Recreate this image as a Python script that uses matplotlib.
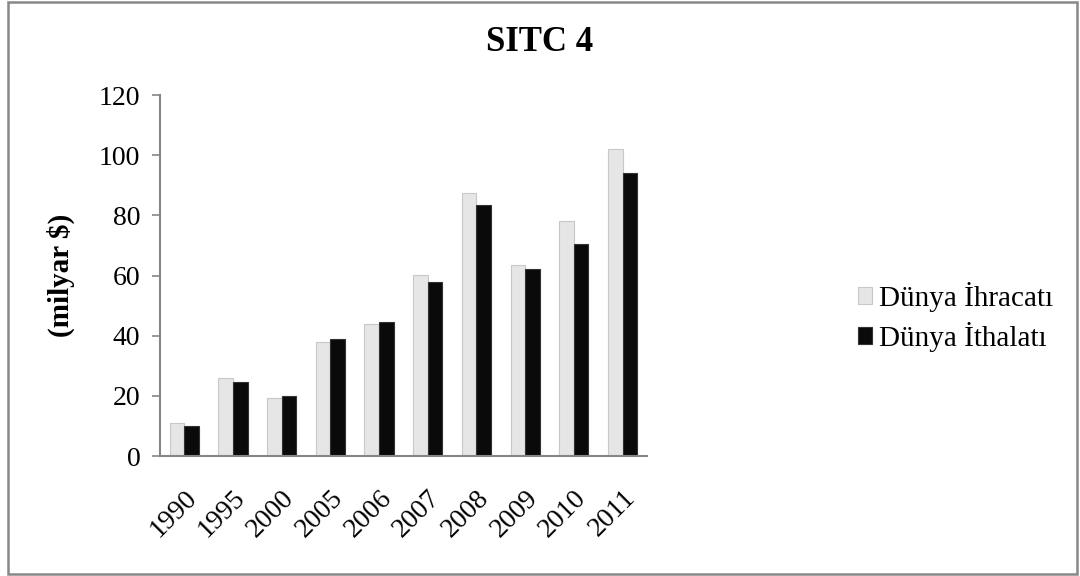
import numpy as np
import matplotlib
matplotlib.use("Agg")
import matplotlib.pyplot as plt
from matplotlib.patches import Rectangle

years = ["1990", "1995", "2000", "2005", "2006", "2007", "2008", "2009", "2010", "2011"]
ihracat = [10.9, 26.1, 19.2, 37.8, 43.8, 60.1, 87.3, 63.4, 78.2, 101.9]
ithalat = [10.1, 24.5, 19.9, 38.9, 44.5, 58.0, 83.3, 62.2, 70.4, 94.0]

plt.rcParams['font.family'] = ['Liberation Serif', 'DejaVu Serif']

fig = plt.figure(figsize=(10.8, 5.76), dpi=100)
ax = fig.add_axes([0.148, 0.2083, 0.451, 0.6267])

x = np.arange(len(years))
w = 0.3
ax.bar(x - w / 2, ihracat, w, color='#e6e6e6', edgecolor='#c8c8c8', linewidth=0.8,
       label='Dünya İhracatı')
ax.bar(x + w / 2, ithalat, w, color='#0a0a0a', edgecolor='#333333', linewidth=0.8,
       label='Dünya İthalatı')

ax.set_xlim(-0.5, len(years) - 0.5)
ax.set_ylim(0, 120)
ax.set_yticks(range(0, 121, 20))
ax.set_xticks(x)
ax.set_xticklabels(years, rotation=45, ha='right', rotation_mode='anchor')
ax.tick_params(axis='x', length=0, pad=21, labelsize=20)
ax.tick_params(axis='y', length=6, width=1.2, color='#868686', pad=8, labelsize=20)

for s in ['top', 'right']:
    ax.spines[s].set_visible(False)
for s in ['left', 'bottom']:
    ax.spines[s].set_color('#868686')
    ax.spines[s].set_linewidth(1.5)

ax.set_ylabel('(milyar $)', fontsize=21, fontweight='bold', labelpad=17)
fig.text(0.5, 0.927, 'SITC 4', ha='center', va='center', fontsize=25, fontweight='bold')

ax.legend(loc='center left', bbox_to_anchor=(0.794, 0.45), bbox_transform=fig.transFigure,
          frameon=False, fontsize=21, borderpad=0, borderaxespad=0,
          handlelength=0.5, handleheight=0.5, handletextpad=0.25, labelspacing=0.35)

fig.patches.append(Rectangle((0.007, 0.003), 0.99, 0.994, transform=fig.transFigure,
                             fill=False, edgecolor='#888888', linewidth=1.8))

fig.savefig('out.png', dpi=100)
